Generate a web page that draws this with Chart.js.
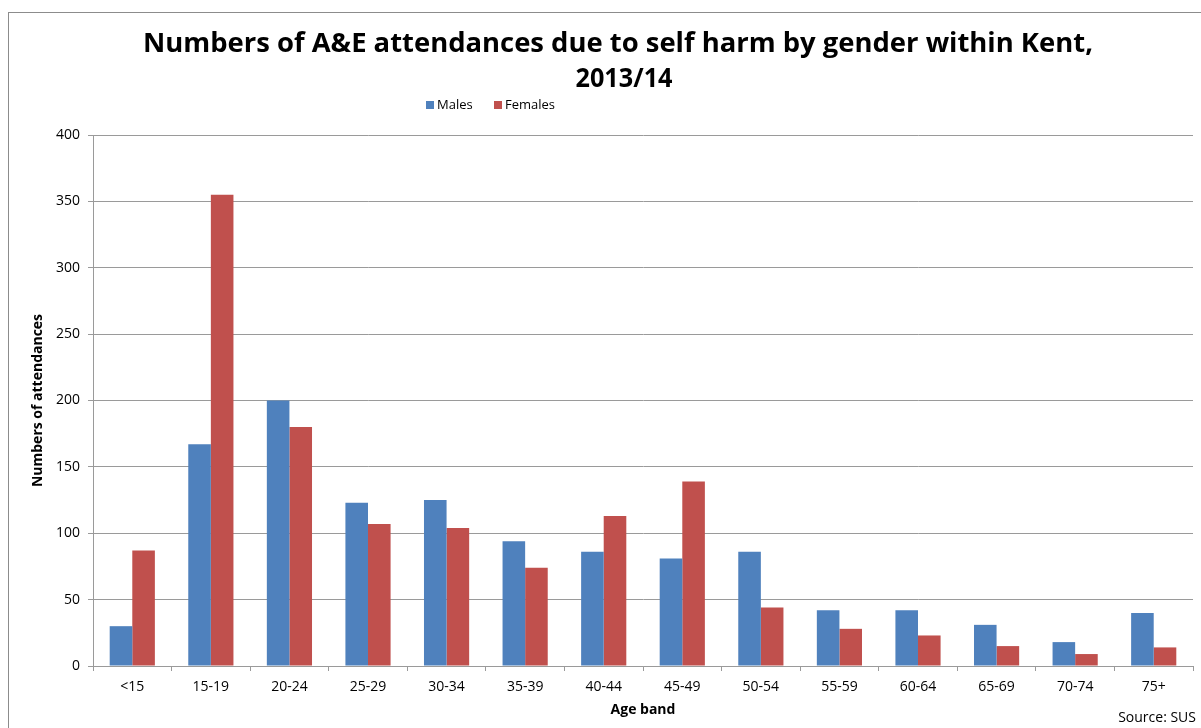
<!DOCTYPE html>
<html>
<head>
<meta charset="utf-8">
<script src="https://cdn.jsdelivr.net/npm/chart.js@4/dist/chart.umd.min.js"></script>
<style>
  html, body { margin: 0; padding: 0; background: #fff; }
  #wrap { width: 1201px; height: 728px; position: relative; }
</style>
</head>
<body>
<div id="wrap"><canvas id="c" width="1201" height="728"></canvas></div>
<script>
const ageBands = ['<15', '15-19', '20-24', '25-29', '30-34', '35-39', '40-44', '45-49', '50-54', '55-59', '60-64', '65-69', '70-74', '75+'];
const males    = [30, 167, 200, 123, 125, 94, 86, 81, 86, 42, 42, 31, 18, 40];
const females  = [87, 355, 180, 107, 104, 74, 113, 139, 44, 28, 23, 15, 9, 14];
const titleLines = ['Numbers of A&E attendances due to self harm by gender within Kent,', '2013/14'];
const seriesNames = ['Males', 'Females'];
const yTitle = 'Numbers of attendances';
const xTitle = 'Age band';
const sourceNote = 'Source: SUS';

const BLUE = '#4F81BD';
const RED = '#C0504D';
const GRID = '#9a9a9a';

Chart.defaults.font.family = '"Open Sans", "Noto Sans", sans-serif';
Chart.defaults.color = '#000';

// Draws text centred at cx, stretched or squeezed to the given width
function fitText(ctx, text, cx, y, width) {
  const natural = ctx.measureText(text).width;
  ctx.save();
  ctx.translate(cx, y);
  ctx.scale(width / natural, 1);
  ctx.textAlign = 'center';
  ctx.fillText(text, 0, 0);
  ctx.restore();
}

// Frame, title, legend and source note drawn around the plot
const decorations = {
  id: 'decorations',
  beforeDraw(chart) {
    const ctx = chart.ctx;
    ctx.save();
    ctx.fillStyle = '#fff';
    ctx.fillRect(0, 0, chart.width, chart.height);
    ctx.strokeStyle = '#8c8c8c';
    ctx.lineWidth = 1;
    ctx.strokeRect(8.5, 12.5, chart.width + 20, chart.height + 20);
    ctx.restore();
  },
  afterDraw(chart) {
    const ctx = chart.ctx;
    ctx.save();
    ctx.fillStyle = '#000';
    ctx.textBaseline = 'alphabetic';
    ctx.font = 'bold 26px "Open Sans"';
    fitText(ctx, titleLines[0], 618, 52, 950);
    fitText(ctx, titleLines[1], 624, 87, 97);

    // legend
    ctx.font = '13px "Open Sans"';
    ctx.textAlign = 'left';
    ctx.textBaseline = 'middle';
    const items = [
      { box: 426, text: 437, w: 40 },
      { box: 494, text: 505, w: 55 }
    ];
    chart.data.datasets.forEach((ds, i) => {
      ctx.fillStyle = ds.backgroundColor;
      ctx.fillRect(items[i].box, 101, 8, 8);
      ctx.fillStyle = '#000';
      ctx.fillText(ds.label, items[i].text, 105, items[i].w);
    });

    // source note
    ctx.font = '14px "Open Sans"';
    ctx.textAlign = 'right';
    ctx.textBaseline = 'middle';
    ctx.fillText(sourceNote, 1196, 718);
    ctx.restore();
  }
};

new Chart(document.getElementById('c'), {
  type: 'bar',
  data: {
    labels: ageBands,
    datasets: [
      { label: seriesNames[0], data: males, backgroundColor: BLUE, borderWidth: 0 },
      { label: seriesNames[1], data: females, backgroundColor: RED, borderWidth: 0 }
    ]
  },
  options: {
    responsive: false,
    animation: false,
    devicePixelRatio: 1,
    layout: { padding: { top: 135, right: 8, left: 0, bottom: 0 } },
    datasets: { bar: { barPercentage: 1.0, categoryPercentage: 0.575 } },
    plugins: {
      legend: { display: false },
      title: { display: false },
      tooltip: { enabled: false }
    },
    scales: {
      x: {
        offset: true,
        grid: { display: true, drawOnChartArea: false, drawTicks: true, tickLength: 5, color: GRID, offset: true },
        border: { display: true, color: GRID },
        ticks: { font: { size: 14 }, padding: 8, maxRotation: 0, autoSkip: false },
        title: { display: true, text: xTitle, font: { size: 14, weight: 'bold' }, padding: { top: 0, bottom: 10 } },
        afterFit(scale) { scale.height = 62; }
      },
      y: {
        min: 0,
        max: 400,
        ticks: { stepSize: 50, font: { size: 14 }, padding: 8 },
        grid: { color: GRID, tickLength: 5, drawTicks: true },
        border: { display: true, color: GRID },
        title: { display: true, text: yTitle, font: { size: 14, weight: 'bold' }, padding: { top: 30, bottom: 0 } },
        afterFit(scale) { scale.width = 93; }
      }
    }
  },
  plugins: [decorations]
});
</script>
</body>
</html>
